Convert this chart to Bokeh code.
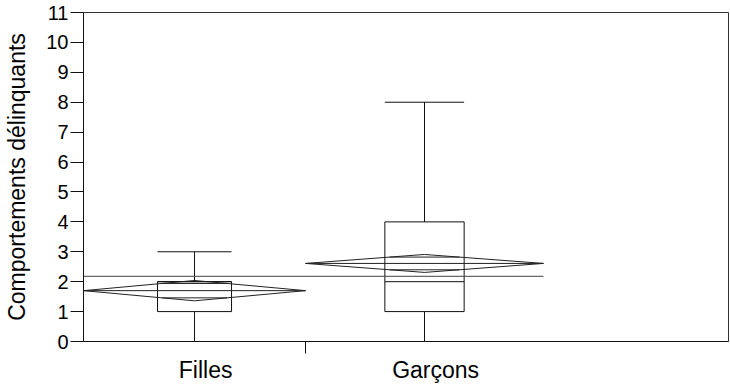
from bokeh.plotting import figure
from bokeh.models import Range1d, FixedTicker, CustomJSTickFormatter
from bokeh.embed import file_html
from bokeh.resources import INLINE

# ---- data ----
groups = ["Filles", "Garçons"]
group_n = [42, 45]            # relative group sizes (JMP widths are proportional to n)
whisker_low = [0, 0]
q1 = [1, 1]
median = [2, 2]
q3 = [2, 4]
whisker_high = [3, 8]
means = [1.70, 2.61]
ci_half = [0.34, 0.30]        # half-height of the means diamonds (95% CI)
grand_mean = 2.18
y_ticks = list(range(0, 12))

# ---- layout constants ----
X_END = 122.0
LABEL_SHIFT = 2.1
FONT = "Liberation Sans"

lefts, rights, centers = [], [], []
acc = 0.0
for n in group_n:
    lefts.append(acc)
    rights.append(acc + n)
    centers.append(acc + n / 2)
    acc += n
total_n = acc

p = figure(width=730, height=385, x_range=Range1d(0, X_END), y_range=Range1d(0, 11),
           output_backend="svg", toolbar_location=None,
           min_border_left=83, min_border_right=2, min_border_top=12, min_border_bottom=43)
p.grid.visible = False
p.outline_line_color = "#333333"
p.outline_line_width = 1
p.background_fill_color = "white"
p.border_fill_color = "white"

LC = "#111111"
box_half = [n / 6 for n in group_n]
bl = [c - h for c, h in zip(centers, box_half)]
br = [c + h for c, h in zip(centers, box_half)]

# boxes
p.quad(left=bl, right=br, bottom=q1, top=q3, fill_color=None, line_color=LC, line_width=1)
# medians
p.segment(x0=bl, x1=br, y0=median, y1=median, line_color=LC, line_width=1)
# whiskers
p.segment(x0=centers, x1=centers, y0=q3, y1=whisker_high, line_color=LC, line_width=1)
p.segment(x0=centers, x1=centers, y0=whisker_low, y1=q1, line_color=LC, line_width=1)
# caps
p.segment(x0=bl, x1=br, y0=whisker_high, y1=whisker_high, line_color=LC, line_width=1)
p.segment(x0=bl, x1=br, y0=whisker_low, y1=whisker_low, line_color=LC, line_width=1)

# grand mean line
p.segment(x0=[0], x1=[total_n], y0=[grand_mean], y1=[grand_mean], line_color="#444444", line_width=1)

# means diamonds
DC = "#222222"
xs, ys = [], []
for l, r, c, m, h in zip(lefts, rights, centers, means, ci_half):
    xs.append([l, c, r, c])
    ys.append([m, m + h, m, m - h])
p.patches(xs=xs, ys=ys, fill_color=None, line_color=DC, line_width=1)
# mean lines
p.segment(x0=lefts, x1=rights, y0=means, y1=means, line_color=DC, line_width=1)
# overlap marks
k = 2 ** -0.5
ox0, ox1, oy = [], [], []
for l, r, c, m, h in zip(lefts, rights, centers, means, ci_half):
    hw = (r - l) / 2 * (1 - k)
    for s in (1, -1):
        ox0.append(c - hw)
        ox1.append(c + hw)
        oy.append(m + s * k * h)
p.segment(x0=ox0, x1=ox1, y0=oy, y1=oy, line_color=DC, line_width=1)

# y axis
ya = p.yaxis[0]
ya.ticker = FixedTicker(ticks=y_ticks)
ya.axis_label = "Comportements délinquants"
ya.axis_label_text_font = FONT
ya.axis_label_text_font_size = "23px"
ya.axis_label_text_font_style = "normal"
ya.axis_label_text_color = "black"
ya.axis_label_standoff = 13
ya.major_label_text_font = FONT
ya.major_label_text_font_size = "20px"
ya.major_label_text_color = "black"
ya.major_label_standoff = 2
ya.major_tick_out = 13
ya.major_tick_in = 0
ya.minor_tick_out = 0
ya.minor_tick_in = 0
ya.axis_line_color = LC
ya.major_tick_line_color = LC

# x axis
xa = p.xaxis[0]
xa.ticker = FixedTicker(ticks=[c + LABEL_SHIFT for c in centers], minor_ticks=rights[:-1])
xa.formatter = CustomJSTickFormatter(args=dict(labels=groups), code="return labels[index];")
xa.major_label_text_font = FONT
xa.major_label_text_font_size = "23px"
xa.major_label_text_color = "black"
xa.major_label_standoff = 3
xa.major_tick_out = 0
xa.major_tick_in = 0
xa.minor_tick_out = 12
xa.minor_tick_in = 0
xa.minor_tick_line_color = LC
xa.axis_line_color = LC

open("out.html", "w").write(file_html(p, INLINE))
